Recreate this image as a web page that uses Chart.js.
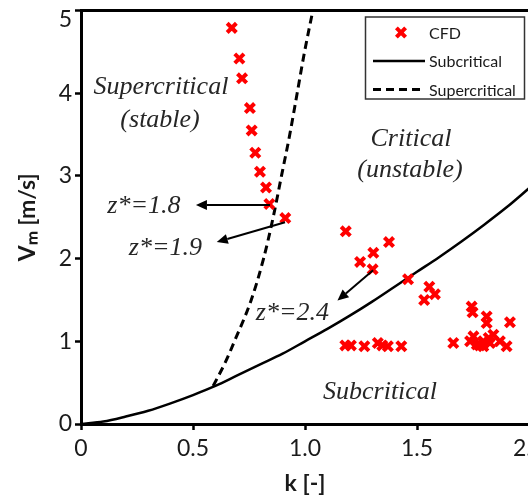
<!DOCTYPE html>
<html><head><meta charset="utf-8">
<script src="https://cdn.jsdelivr.net/npm/chart.js@4.4.1/dist/chart.umd.min.js"></script>
<style>
html,body{margin:0;padding:0;overflow:hidden;background:#fff;width:528px;height:497px}
#wrap{width:545px;height:497px}
</style>
</head><body>
<div id="wrap"><canvas id="c" width="545" height="497"></canvas></div>
<script>
// ---- data ----
const cfdK = [0.673,0.707,0.719,0.754,0.762,0.778,0.799,0.826,0.841,0.912,
  1.182,1.375,1.305,1.246,1.302,
  1.460,1.555,1.580,1.532,
  1.180,1.205,1.265,1.325,1.345,1.370,1.430,
  1.662,1.744,1.748,1.811,1.915,1.811,1.752,1.841,1.796,1.870,1.767,1.796,1.900,1.826,1.737,1.780,1.820];
const cfdV = [4.79,4.42,4.18,3.82,3.55,3.28,3.05,2.86,2.66,2.49,
  2.33,2.20,2.07,1.96,1.87,
  1.75,1.66,1.57,1.50,
  0.95,0.95,0.94,0.98,0.95,0.94,0.94,
  0.98,1.42,1.35,1.30,1.23,1.22,1.06,1.08,1.00,1.00,0.96,0.94,0.94,0.98,1.00,0.95,1.04];
const subK = [0,0.1,0.2,0.3,0.4,0.5,0.6,0.7,0.8,0.9,1.0,1.1,1.2,1.3,1.4,1.5,1.6,1.7,1.8,1.9,2.0];
const subV = [0,0.03,0.09,0.16,0.25,0.35,0.46,0.59,0.72,0.85,1.00,1.15,1.31,1.48,1.66,1.84,2.02,2.21,2.41,2.62,2.85];
const supK = [0.59,0.645,0.685,0.76,0.815,0.858,0.895,0.932,0.965,0.998,1.035];
const supV = [0.46,0.75,1.00,1.50,2.00,2.50,3.00,3.50,4.00,4.50,5.00];
const seriesNames = ['CFD','Subcritical','Supercritical'];
const xTicks = [0,0.5,1,1.5,2];
const yTicks = [0,1,2,3,4,5];

// ---- annotations (data coordinates) ----
const regionLabels = [
  {text:'Supercritical', k:0.357, v:4.07},
  {text:'(stable)', k:0.353, v:3.67},
  {text:'Critical', k:1.473, v:3.44},
  {text:'(unstable)', k:1.469, v:3.07},
  {text:'z*=1.8', k:0.281, v:2.63},
  {text:'z*=1.9', k:0.377, v:2.13},
  {text:'z*=2.4', k:0.944, v:1.34},
  {text:'Subcritical', k:1.335, v:0.38}
];
const arrows = [
  {k1:0.844, v1:2.647, k2:0.513, v2:2.647},
  {k1:0.911, v1:2.439, k2:0.606, v2:2.20},
  {k1:1.304, v1:1.859, k2:1.145, v2:1.493}
];

const pts = (xs, ys) => xs.map((x,i)=>({x:x, y:ys[i]}));

const annotPlugin = {
  id:'annot',
  afterDatasetsDraw(chart){
    const {ctx, scales:{x, y}} = chart;
    ctx.save();
    ctx.font = 'italic 26px "Liberation Serif", "Times New Roman", serif';
    ctx.fillStyle = '#262626';
    ctx.textAlign = 'center';
    ctx.textBaseline = 'middle';
    regionLabels.forEach(l => ctx.fillText(l.text, x.getPixelForValue(l.k), y.getPixelForValue(l.v)));
    ctx.strokeStyle = '#000';
    ctx.fillStyle = '#000';
    ctx.lineWidth = 2;
    arrows.forEach(a => {
      const x1 = x.getPixelForValue(a.k1), y1 = y.getPixelForValue(a.v1);
      const x2 = x.getPixelForValue(a.k2), y2 = y.getPixelForValue(a.v2);
      const ang = Math.atan2(y2-y1, x2-x1);
      const hl = 11, hw = 5;
      const bx = x2 - hl*Math.cos(ang), by = y2 - hl*Math.sin(ang);
      ctx.beginPath(); ctx.moveTo(x1,y1); ctx.lineTo(bx,by); ctx.stroke();
      ctx.beginPath();
      ctx.moveTo(x2,y2);
      ctx.lineTo(bx + hw*Math.sin(ang), by - hw*Math.cos(ang));
      ctx.lineTo(bx - hw*Math.sin(ang), by + hw*Math.cos(ang));
      ctx.closePath(); ctx.fill();
    });
    ctx.restore();
  }
};

const legendPlugin = {
  id:'boxLegend',
  afterDraw(chart){
    const {ctx, chartArea} = chart;
    const ds = chart.data.datasets;
    const right = chartArea.right - 5, top = chartArea.top + 6;
    const w = 159, h = 82;
    const left = right - w;
    ctx.save();
    ctx.fillStyle = '#fff';
    ctx.fillRect(left, top, w, h);
    ctx.strokeStyle = '#333';
    ctx.lineWidth = 1.5;
    ctx.strokeRect(left+0.5, top+0.5, w, h);
    const rows = [top+16, top+44.5, top+73];
    const lx1 = left+8, lx2 = left+60, tx = left+64;
    ctx.font = '16px Lato, "Open Sans", sans-serif';
    ctx.textBaseline = 'middle';
    ctx.textAlign = 'left';
    ds.forEach((d,i) => {
      const yy = rows[i];
      if (!d.showLine) {
        const cx = (lx1+lx2)/2 + 2, r = d.pointRadius*0.707;
        ctx.strokeStyle = d.borderColor; ctx.lineWidth = d.pointBorderWidth;
        ctx.beginPath();
        ctx.moveTo(cx-r,yy-r); ctx.lineTo(cx+r,yy+r);
        ctx.moveTo(cx+r,yy-r); ctx.lineTo(cx-r,yy+r);
        ctx.stroke();
      } else {
        ctx.strokeStyle = d.borderColor; ctx.lineWidth = d.borderWidth;
        ctx.setLineDash(d.borderDash || []);
        ctx.beginPath(); ctx.moveTo(lx1,yy); ctx.lineTo(lx2,yy); ctx.stroke();
        ctx.setLineDash([]);
      }
      ctx.fillStyle = '#1a1a1a';
      ctx.fillText(d.label, tx, yy+1);
    });
    ctx.restore();
  }
};

const tickFont = {family:'Lato', size:23};

new Chart(document.getElementById('c'), {
  type:'scatter',
  data:{datasets:[
    {label:seriesNames[0], data:pts(cfdK,cfdV), showLine:false, pointStyle:'crossRot',
     pointRadius:6.5, pointHoverRadius:6.5, pointBorderWidth:4, pointHoverBorderWidth:4,
     borderColor:'#ff0000', backgroundColor:'#ff0000', order:0},
    {label:seriesNames[1], data:pts(subK,subV), showLine:true, borderColor:'#000', borderWidth:2.5,
     pointRadius:0, pointHoverRadius:0, cubicInterpolationMode:'monotone', fill:false, order:1},
    {label:seriesNames[2], data:pts(supK,supV), showLine:true, borderColor:'#000', borderWidth:3,
     borderDash:[8,5], pointRadius:0, pointHoverRadius:0, cubicInterpolationMode:'monotone', fill:false, order:2}
  ]},
  options:{
    responsive:false, animation:false, devicePixelRatio:1,
    layout:{padding:{left:0, top:0, right:16, bottom:0}},
    plugins:{legend:{display:false}, tooltip:{enabled:false}},
    events:[],
    scales:{
      x:{type:'linear', position:'bottom', min:0, max:2,
        afterBuildTicks(s){ s.ticks = xTicks.map(v=>({value:v})); },
        ticks:{font:tickFont, color:'#1a1a1a', padding:5, maxRotation:0, autoSkip:false},
        grid:{display:true, drawOnChartArea:false, drawTicks:true, tickLength:6, tickWidth:2.5, tickColor:'#000'},
        border:{display:true, width:3, color:'#000'},
        title:{display:true, text:'k [-]', font:{family:'Lato', size:23, weight:'bold'}, color:'#1a1a1a', padding:{top:0, bottom:0}},
        afterFit(s){ s.height = 73; s.paddingLeft = 0; s.paddingRight = 0; }
      },
      xTop:{type:'linear', position:'top', min:0, max:2,
        ticks:{display:false}, grid:{display:false, drawTicks:false},
        border:{display:true, width:3, color:'#000'},
        afterFit(s){ s.height = 6; s.paddingLeft = 0; s.paddingRight = 0; }
      },
      y:{type:'linear', position:'left', min:0, max:5,
        afterBuildTicks(s){ s.ticks = yTicks.map(v=>({value:v})); },
        ticks:{
          font:(c)=> (c.tick && c.tick.value===5) ? {family:'Lato', size:23, lineHeight:'18px'} : tickFont,
          callback:(v)=> v===5 ? ['', '5'] : String(v),
          color:'#1a1a1a', padding:3},
        grid:{display:true, drawOnChartArea:false, drawTicks:true, tickLength:6, tickWidth:2.5, tickColor:'#000'},
        border:{display:true, width:3, color:'#000'},
        title:{display:true, text:'Vₘ [m/s]', font:{family:'Lato', size:23, weight:'bold'}, color:'#1a1a1a', padding:{top:14, bottom:0}},
        afterFit(s){ s.width = 81; s.paddingTop = 0; s.paddingBottom = 0; }
      }
    }
  },
  plugins:[annotPlugin, legendPlugin]
});
</script>
</body></html>
